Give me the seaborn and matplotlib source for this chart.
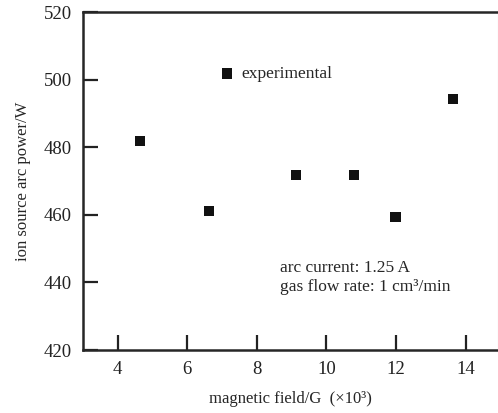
import numpy as np
import matplotlib
matplotlib.use("Agg")
import matplotlib.pyplot as plt
import seaborn as sns

# data
field = [4.64, 6.62, 9.12, 10.79, 11.99, 13.64]
power = [481.8, 461.1, 471.8, 471.8, 459.3, 494.2]
x_ticks = [4, 6, 8, 10, 12, 14]
y_ticks = [420, 440, 460, 480, 500, 520]

sns.set_style("ticks")
plt.rcParams['font.family'] = ['Liberation Serif', 'DejaVu Serif']

fig = plt.figure(figsize=(4.98, 4.13), dpi=100)
ax = fig.add_axes([83 / 498, 63 / 413, 414.5 / 498, 338 / 413])

sns.scatterplot(x=field, y=power, marker="s", s=55, color="#111111",
                edgecolor="none", label="experimental", ax=ax)

ax.set_xlim(3, 14.92)
ax.set_ylim(420, 520)
ax.set_xticks(x_ticks)
ax.set_yticks(y_ticks)
ax.tick_params(direction="in", length=11, width=1.6, labelsize=13.5, colors="#222222",
               pad=8)
for side in ["left", "bottom", "top"]:
    ax.spines[side].set_linewidth(1.8)
ax.spines["right"].set_linewidth(0.8)
ax.spines["right"].set_color("#cccccc")

ax.set_xlabel("magnetic field/G  (×10³)", fontsize=12, labelpad=9)
ax.set_ylabel("ion source arc power/W", fontsize=12, labelpad=9)

ax.text(8.66, 441.5, "arc current: 1.25 A\ngas flow rate: 1 cm³/min",
        fontsize=12.5, va="center", ha="left", linespacing=1.2)

ax.legend(frameon=False, loc="center left", bbox_to_anchor=(0.335, 0.817),
          fontsize=12.5, handlelength=0.6, handletextpad=0.5, borderpad=0,
          borderaxespad=0, markerscale=1.0)

fig.savefig("out.png", dpi=100)
